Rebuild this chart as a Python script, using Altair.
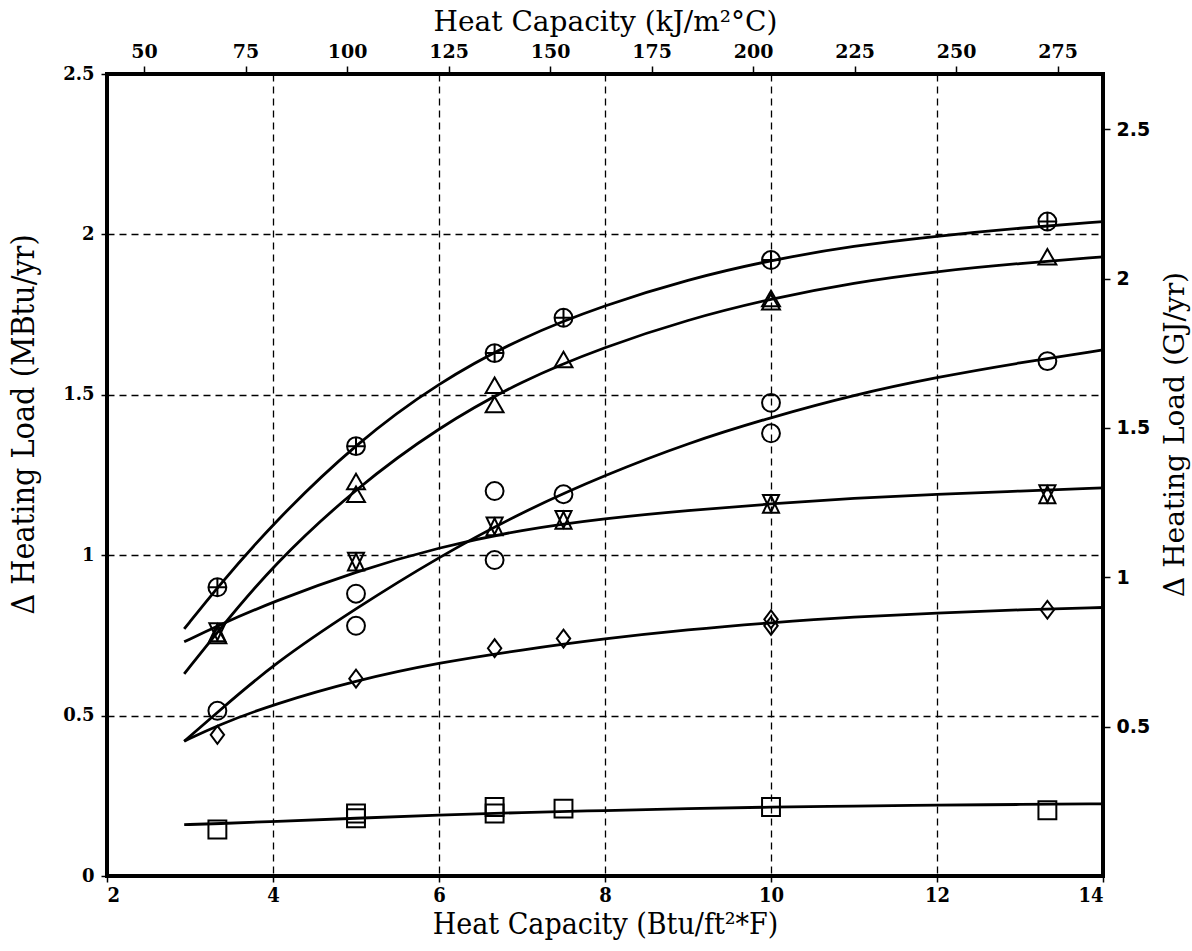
import altair as alt
import pandas as pd

# ---------------- data ----------------
# measured points: x = heat capacity (Btu/ft2*F), y = delta heating load (MBtu/yr)
oplus_x = [3.33, 5.0, 6.67, 7.5, 10.0, 13.33]
oplus_y = [0.90, 1.34, 1.63, 1.74, 1.92, 2.04]

tri_x = [3.33, 5.0, 5.0, 6.67, 6.67, 7.5, 10.0, 10.0, 13.33]
tri_y = [0.75, 1.23, 1.19, 1.53, 1.47, 1.61, 1.80, 1.79, 1.93]

circ_x = [3.33, 5.0, 5.0, 6.67, 6.67, 7.5, 10.0, 10.0, 13.33]
circ_y = [0.515, 0.88, 0.78, 1.20, 0.985, 1.19, 1.475, 1.38, 1.605]

hour_x = [3.33, 5.0, 6.67, 7.5, 10.0, 13.33]
hour_y = [0.76, 0.98, 1.09, 1.11, 1.16, 1.19]

diam_x = [3.33, 5.0, 6.67, 7.5, 10.0, 10.0, 13.33]
diam_y = [0.44, 0.615, 0.71, 0.74, 0.80, 0.78, 0.83]

sq_x = [3.33, 5.0, 5.0, 6.67, 6.67, 7.5, 10.0, 13.33]
sq_y = [0.145, 0.195, 0.18, 0.215, 0.195, 0.21, 0.215, 0.205]

# fitted curves at these x values
curve_x = [2.93, 3.33, 4, 5, 6, 7, 8, 9, 10, 11, 12, 13, 14]
oplus_curve = [0.77, 0.90, 1.10, 1.35, 1.54, 1.68, 1.78, 1.86, 1.92, 1.965, 1.995, 2.02, 2.04]
tri_curve = [0.63, 0.76, 0.97, 1.21, 1.40, 1.545, 1.65, 1.735, 1.80, 1.85, 1.885, 1.91, 1.93]
circ_curve = [0.42, 0.51, 0.66, 0.835, 0.995, 1.135, 1.25, 1.35, 1.43, 1.50, 1.555, 1.60, 1.64]
hour_curve = [0.73, 0.78, 0.855, 0.95, 1.025, 1.08, 1.115, 1.14, 1.16, 1.178, 1.19, 1.20, 1.21]
diam_curve = [0.42, 0.47, 0.535, 0.61, 0.665, 0.705, 0.74, 0.768, 0.79, 0.808, 0.82, 0.83, 0.837]
sq_curve = [0.16, 0.163, 0.17, 0.18, 0.19, 0.198, 0.204, 0.21, 0.215, 0.218, 0.221, 0.223, 0.225]

series = ["oplus", "tri", "circ", "hour", "diam", "sq"]

# axis ticks
bottom_ticks = [2, 4, 6, 8, 10, 12, 14]
left_ticks = [0, 0.5, 1, 1.5, 2, 2.5]
top_ticks = [50, 75, 100, 125, 150, 175, 200, 225, 250, 275]
right_ticks = [0.5, 1, 1.5, 2, 2.5]

# secondary-axis domains (kJ/m2C for 2..14 Btu/ft2F ; GJ/yr for 0..2.5 MBtu/yr as printed)
top_domain = [40.88, 286.16]
right_domain = [0, 2.685]

# ---------------- tables ----------------
pts = []
for name, xs, ys in [("oplus", oplus_x, oplus_y), ("tri", tri_x, tri_y),
                     ("circ", circ_x, circ_y), ("hour", hour_x, hour_y),
                     ("diam", diam_x, diam_y), ("sq", sq_x, sq_y)]:
    for a, b in zip(xs, ys):
        pts.append({"series": name, "x": a, "y": b})
pts = pd.DataFrame(pts)

crv = []
for name, ys in [("oplus", oplus_curve), ("tri", tri_curve), ("circ", circ_curve),
                 ("hour", hour_curve), ("diam", diam_curve), ("sq", sq_curve)]:
    for a, b in zip(curve_x, ys):
        crv.append({"series": name, "x": a, "y": b})
crv = pd.DataFrame(crv)

shape_range = [
    "M -1 0 A 1 1 0 1 1 1 0 A 1 1 0 1 1 -1 0 Z M -1 0 L 1 0 M 0 -1 L 0 1",
    "triangle-up",
    "circle",
    "M -0.9 -1 L 0.9 -1 L 0 0.9 Z M -0.9 1 L 0.9 1 L 0 -0.9 Z",
    "M -0.75 0 L 0 -1 L 0.75 0 L 0 1 Z",
    "square",
]

SERIF = "DejaVu Serif"
SERIF_C = "DejaVu Serif Condensed"

xscale = alt.Scale(domain=[2, 14], nice=False, zero=False)
yscale = alt.Scale(domain=[0, 2.5], nice=False, zero=False)

x_enc = alt.X("x:Q", scale=xscale, axis=alt.Axis(
    orient="bottom", values=bottom_ticks, format="d",
    title="Heat Capacity (Btu/ft²*F)",
    titleFont=SERIF_C, titleFontSize=30, titleFontWeight="normal", titleColor="black",
    titlePadding=4,
    labelFont=SERIF_C, labelFontSize=20, labelFontWeight="bold", labelColor="black",
    labelPadding=3, tickSize=6, tickColor="black", tickWidth=1.5,
    domain=False, grid=True, gridColor="black", gridDash=[7, 5], gridWidth=1.3,
    gridOpacity=1))
y_enc = alt.Y("y:Q", scale=yscale, axis=alt.Axis(
    orient="left", values=left_ticks, format="~g",
    title="Δ Heating Load (MBtu/yr)", titleY=350,
    titleFont=SERIF_C, titleFontSize=32, titleFontWeight="normal", titleColor="black",
    titlePadding=22,
    labelFont=SERIF, labelFontSize=18, labelFontWeight="bold", labelColor="black",
    labelPadding=7, tickSize=6, tickColor="black", tickWidth=1.5,
    domain=False, grid=True, gridColor="black", gridDash=[7, 5], gridWidth=1.3,
    gridOpacity=1))

lines = alt.Chart(crv).mark_line(color="black", strokeWidth=2.8, interpolate="basis").encode(
    x=x_enc, y=y_enc, detail="series:N")

points = alt.Chart(pts).mark_point(filled=False, color="black", strokeWidth=2, size=320, opacity=1).encode(
    x=alt.X("x:Q", scale=xscale),
    y=alt.Y("y:Q", scale=yscale),
    shape=alt.Shape("series:N", scale=alt.Scale(domain=series, range=shape_range), legend=None),
)

main = alt.layer(lines, points)

sec = pd.DataFrame({"kj": top_domain, "gj": right_domain})
secondary = alt.Chart(sec).mark_point(opacity=0).encode(
    x=alt.X("kj:Q", scale=alt.Scale(domain=top_domain, nice=False, zero=False), axis=alt.Axis(
        orient="top", values=top_ticks, format="d",
        title="Heat Capacity (kJ/m²°C)",
        titleFont=SERIF, titleFontSize=28, titleFontWeight="normal", titleColor="black",
        titlePadding=6,
        labelFont=SERIF, labelFontSize=19, labelFontWeight="bold", labelColor="black",
        labelPadding=5, tickSize=8, tickColor="black", tickWidth=1.5,
        domain=False, grid=False)),
    y=alt.Y("gj:Q", scale=alt.Scale(domain=right_domain, nice=False, zero=False), axis=alt.Axis(
        orient="right", values=right_ticks, format="~g",
        title="Δ Heating Load (GJ/yr)", titleAngle=270, titleY=360,
        titleFont=SERIF, titleFontSize=28, titleFontWeight="normal", titleColor="black",
        titlePadding=40,
        labelFont="DejaVu Sans", labelFontSize=19, labelFontWeight="bold", labelColor="black",
        labelPadding=6, tickSize=7, tickColor="black", tickWidth=1.5,
        domain=False, grid=False)),
)

chart = alt.layer(main, secondary).resolve_scale(
    x="independent", y="independent", shape="independent"
).properties(
    width=996, height=802,
    autosize=alt.AutoSizeParams(type="none"),
    padding={"left": 107, "top": 74, "right": 89, "bottom": 75},
    background="white",
).configure_view(stroke="black", strokeWidth=4)

chart.save("out.html", embed_options={"renderer": "svg", "actions": False})
